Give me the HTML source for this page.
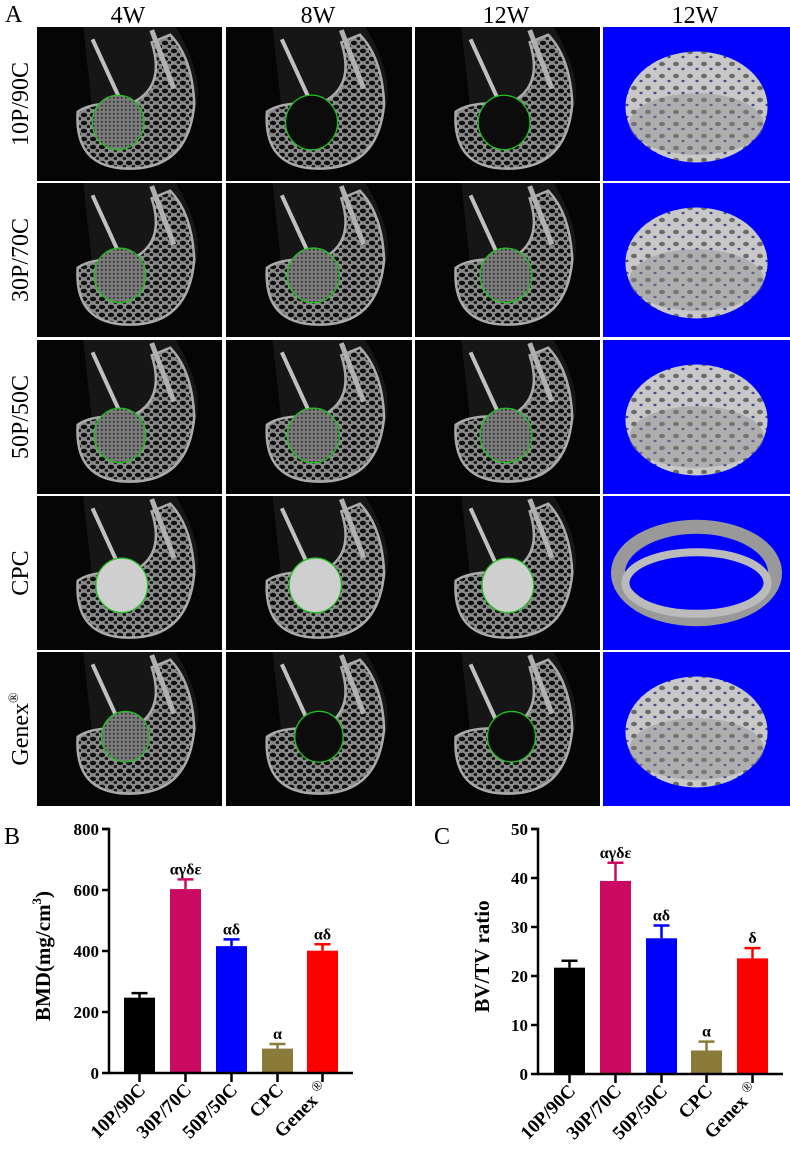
<!DOCTYPE html>
<html><head><meta charset="utf-8"><style>
html,body{margin:0;padding:0;background:#fff;}
svg{display:block;}
text{font-family:"Liberation Serif",serif;}
</style></head><body>
<svg id="fig" width="790" height="1156" viewBox="0 0 790 1156" xmlns="http://www.w3.org/2000/svg">
<defs>
<pattern id="trab" width="9" height="8" patternUnits="userSpaceOnUse">
<rect width="9" height="8" fill="#8a8a8a"/>
<ellipse cx="3" cy="3" rx="3.2" ry="2.2" fill="#101010"/>
<ellipse cx="7.5" cy="6.5" rx="2" ry="1.5" fill="#181818"/>
</pattern>
<pattern id="blob" width="14" height="12" patternUnits="userSpaceOnUse">
<rect width="14" height="12" fill="#c8c8c8"/>
<ellipse cx="4" cy="4" rx="3" ry="2.2" fill="#6a6a6a"/>
<ellipse cx="11" cy="9" rx="1.6" ry="1.2" fill="#4a4a8a"/>
</pattern>
<pattern id="dense" width="4" height="4" patternUnits="userSpaceOnUse">
<rect width="4" height="4" fill="#7a7a7a"/>
<rect x="1" y="1" width="1.6" height="1.6" fill="#2a2a2a"/>
</pattern>
</defs>
<g id="panelA"></g>
<g id="chartB"></g>
<g id="chartC"></g>
</svg>
<script>
const categories = ["10P/90C","30P/70C","50P/50C","CPC","Genex®"];
const bmdValues = [247, 603, 416, 80, 401];
const bmdErrors = [262, 635, 438, 95, 422];
const bmdSig = ["", "αγδε", "αδ", "α", "αδ"];
const bmdTicks = [0,200,400,600,800];
const bvValues = [21.7, 39.4, 27.7, 4.8, 23.6];
const bvErrors = [23.1, 43.1, 30.3, 6.6, 25.7];
const bvSig = ["", "αγδε", "αδ", "α", "δ"];
const bvTicks = [0,10,20,30,40,50];
const barColors = ["#000000","#cc0a63","#0000ff","#8b7b3a","#ff0000"];
const colHeaders = ["4W","8W","12W","12W"];
const rowLabels = ["10P/90C","30P/70C","50P/50C","CPC","Genex"];

const NS="http://www.w3.org/2000/svg";
function mk(tag, attrs, parent){const e=document.createElementNS(NS,tag);for(const k in attrs)e.setAttribute(k,attrs[k]);parent.appendChild(e);return e;}
const svg=document.getElementById('fig');

const A=document.getElementById('panelA');
const colX=[37,226,415,603], colW=[185,186,185,187];
const rowY=[27,183,340,496,652], rowH=154;
const lA=mk('text',{x:5,y:22,'font-size':24},A); lA.textContent='A';


const hx=[128,318,506,695];
colHeaders.forEach((h,i)=>{const t=mk('text',{x:hx[i],y:23,'font-size':24,'text-anchor':'middle'},A);t.textContent=h;

});
rowLabels.forEach((r,j)=>{const cy=rowY[j]+rowH/2;const t=mk('text',{x:0,y:0,'font-size':24,'text-anchor':'middle',transform:`translate(28,${cy}) rotate(-90)`},A);
t.textContent=r; if(j==4){const s=mk('tspan',{'font-size':14,dy:-10},t);s.textContent='®';}

});
const circ=[[0.46,0.62,0.14],[0.47,0.6,0.14],[0.47,0.62,0.14],[0.48,0.58,0.14],[0.5,0.55,0.13]];
for(let j=0;j<5;j++){for(let i=0;i<4;i++){
 const x=colX[i],y=rowY[j],w=colW[i],h=rowH;
 const g=mk('g',{},A);
 
 
 if(i<3){
  mk('rect',{x,y,width:w,height:h,fill:'#050505'},g);
  mk('path',{d:`M${x+0.25*w},${y} L${x+0.75*w},${y} Q${x+0.92*w},${y+0.35*h} ${x+0.85*w},${y+0.55*h} L${x+0.3*w},${y+0.55*h} Z`,fill:'#161616'},g);
  mk('path',{d:`M${x+0.22*w},${y+0.55*h} Q${x+0.2*w},${y+0.92*h} ${x+0.5*w},${y+0.92*h} Q${x+0.82*w},${y+0.92*h} ${x+0.85*w},${y+0.5*h} Q${x+0.84*w},${y+0.2*h} ${x+0.72*w},${y+0.05*h} L${x+0.62*w},${y+0.1*h} Q${x+0.7*w},${y+0.4*h} ${x+0.5*w},${y+0.5*h} Q${x+0.3*w},${y+0.48*h} ${x+0.22*w},${y+0.55*h} Z`,fill:'url(#trab)',stroke:'#aaa','stroke-width':2.5},g);
  mk('line',{x1:x+0.3*w,y1:y+0.08*h,x2:x+0.46*w,y2:y+0.5*h,stroke:'#c0c0c0','stroke-width':4},g);
  mk('line',{x1:x+0.62*w,y1:y+0.02*h,x2:x+0.74*w,y2:y+0.4*h,stroke:'#b0b0b0','stroke-width':5},g);
  const c=circ[j];const cx=x+c[0]*w+(i-1)*4,cy=y+c[1]*h,r=c[2]*w;
  let fill='#0c0c0c';
  if(j==3) fill='#cfcfcf'; else if(i==0||j==1||j==2) fill='url(#dense)';
  mk('ellipse',{cx,cy,rx:r,ry:r*1.05,fill,stroke:'#22c022','stroke-width':1.3},g);
 } else {
  mk('rect',{x,y,width:w,height:h,fill:'#0000ff'},g);
  const cx=x+w/2,cy=y+h/2;
  if(j==3){
   mk('ellipse',{cx,cy:cy,rx:0.42*w,ry:0.3*h,fill:'none',stroke:'#999','stroke-width':14},g);
   mk('ellipse',{cx,cy:cy+10,rx:0.38*w,ry:0.2*h,fill:'none',stroke:'#bbb','stroke-width':8},g);
  } else {
   mk('ellipse',{cx,cy:cy+3,rx:0.38*w,ry:0.36*h,fill:'url(#blob)'},g);
   mk('ellipse',{cx,cy:cy+20,rx:0.36*w,ry:0.2*h,fill:'#888',opacity:0.4},g);
  }
 }
}}

function chart(gid, ax, y0, yTop, maxV, ticks, vals, errs, sig, barX, axisEnd, title, titleX){
 const G=document.getElementById(gid);
 const ys=v=>y0-(v/maxV)*(y0-yTop);
 const barW=31;
 vals.forEach((v,i)=>{
  const bx=barX[i];
  const b=mk('rect',{x:bx,y:ys(v),width:barW,height:y0-ys(v),fill:barColors[i]},G);
  
  
  const cx=bx+barW/2;
  const e=mk('path',{d:`M${cx},${ys(v)} V${ys(errs[i])} M${cx-8},${ys(errs[i])} H${cx+8}`,stroke:barColors[i],'stroke-width':2.5,fill:'none'},G);
  
  
  if(sig[i]){const t=mk('text',{x:cx,y:ys(errs[i])-5,'font-size':16,'font-weight':'bold','text-anchor':'middle'},G);t.textContent=sig[i];
   
   }
  mk('line',{x1:cx,y1:y0,x2:cx,y2:y0+9,stroke:'#000','stroke-width':2.5},G);
  const lab=mk('text',{x:0,y:0,'font-size':19,'font-weight':'bold','text-anchor':'end',transform:`translate(${cx+7},${y0+18}) rotate(-45)`},G);
  if(i==4){lab.textContent='Genex ';const s=mk('tspan',{'font-size':14,dy:-8,'font-weight':'normal'},lab);s.textContent='®';}
  else lab.textContent=categories[i];
  
  
 });
 const axis=mk('path',{d:`M${ax-7},${yTop} H${ax} V${y0} H${axisEnd}`,stroke:'#000','stroke-width':2.5,fill:'none'},G);
 
 
 ticks.forEach(t=>{const y=ys(t);mk('line',{x1:ax-7,y1:y,x2:ax,y2:y,stroke:'#000','stroke-width':2.5},G);
  const tl=mk('text',{x:ax-10,y:y+6,'font-size':17,'font-weight':'bold','text-anchor':'end'},G);tl.textContent=t;
  
  });
 const tt=mk('text',{x:0,y:0,'font-size':21,'font-weight':'bold','text-anchor':'middle',transform:`translate(${titleX},${(y0+yTop)/2+5}) rotate(-90)`},G);
 if(title=='BMD'){tt.textContent='BMD(mg/cm';const s=mk('tspan',{'font-size':13,dy:-9},tt);s.textContent='3';const s2=mk('tspan',{dy:9},tt);s2.textContent=')';}
 else tt.textContent=title;
 
 
}
chart('chartB',109,1073,829,800,bmdTicks,bmdValues,bmdErrors,bmdSig,[124,170,216,262,307],353,'BMD',50);
chart('chartC',538,1074,829,50,bvTicks,bvValues,bvErrors,bvSig,[554,600,646,691,737],783,'BV/TV ratio',489);
const lb=mk('text',{x:4,y:844,'font-size':24},svg);lb.textContent='B';


const lc=mk('text',{x:434,y:844,'font-size':24},svg);lc.textContent='C';


</script>
</body></html>
